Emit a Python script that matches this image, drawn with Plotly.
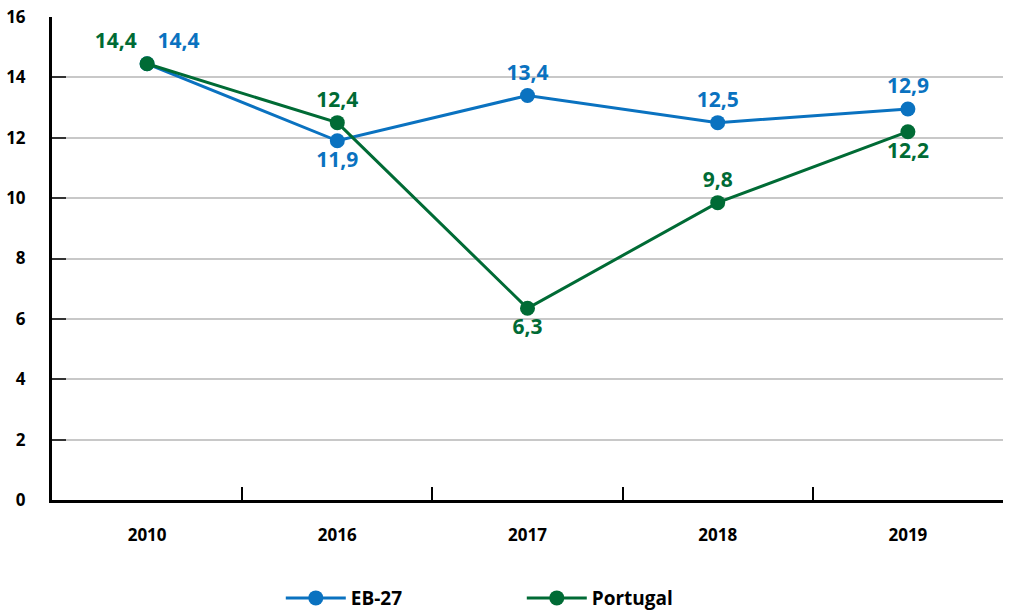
import plotly.graph_objects as go

years = ["2010", "2016", "2017", "2018", "2019"]
eb27 = [14.45, 11.9, 13.4, 12.5, 12.95]
portugal = [14.45, 12.5, 6.35, 9.85, 12.2]
eb27_labels = ["14,4", "11,9", "13,4", "12,5", "12,9"]
portugal_labels = ["14,4", "12,4", "6,3", "9,8", "12,2"]

blue = "#0A72C0"
green = "#006B35"
font_family = "'Open Sans', sans-serif"

fig = go.Figure()
fig.add_trace(go.Scatter(
    x=years, y=eb27, name="EB-27", mode="lines+markers+text",
    line=dict(color=blue, width=3), marker=dict(color=blue, size=15),
    text=eb27_labels,
    textposition=["top right", "bottom center", "top center", "top center", "top center"],
    textfont=dict(color=blue, size=21, family=font_family, weight="bold"),
))
fig.add_trace(go.Scatter(
    x=years, y=portugal, name="Portugal", mode="lines+markers+text",
    line=dict(color=green, width=3), marker=dict(color=green, size=15),
    text=portugal_labels,
    textposition=["top left", "top center", "bottom center", "top center", "bottom center"],
    textfont=dict(color=green, size=21, family=font_family, weight="bold"),
))

fig.update_layout(
    width=1009, height=614,
    margin=dict(l=52, r=6, t=17, b=114, autoexpand=False),
    plot_bgcolor="white", paper_bgcolor="white",
    font=dict(family=font_family, color="black", size=17, weight="bold"),
    legend=dict(orientation="h", x=0.494, xanchor="center", y=-0.203, yanchor="middle",
                font=dict(size=19, weight="bold"), itemwidth=60, entrywidth=166),
    showlegend=True,
)
fig.update_xaxes(
    type="category", range=[-0.5, 4.5], tickson="boundaries",
    ticks="inside", ticklen=13, tickwidth=1.5, tickcolor="black",
    showline=True, linecolor="black", linewidth=3,
    showgrid=False, ticklabelstandoff=18, automargin=False,
    tickfont=dict(size=17, weight="bold"),
)
fig.update_yaxes(
    range=[0, 16], dtick=2, ticks="inside", ticklen=14, tickwidth=1.5, tickcolor="#333",
    showline=True, linecolor="black", linewidth=3,
    showgrid=True, gridcolor="#C8C8C8", gridwidth=1.5,
    zeroline=False, ticklabelstandoff=20, automargin=False,
    tickfont=dict(size=17, weight="bold"),
)

fig.write_html("out.html", config={"displayModeBar": False},
               post_script="document.body.style.margin='0';document.body.style.overflow='hidden';")
